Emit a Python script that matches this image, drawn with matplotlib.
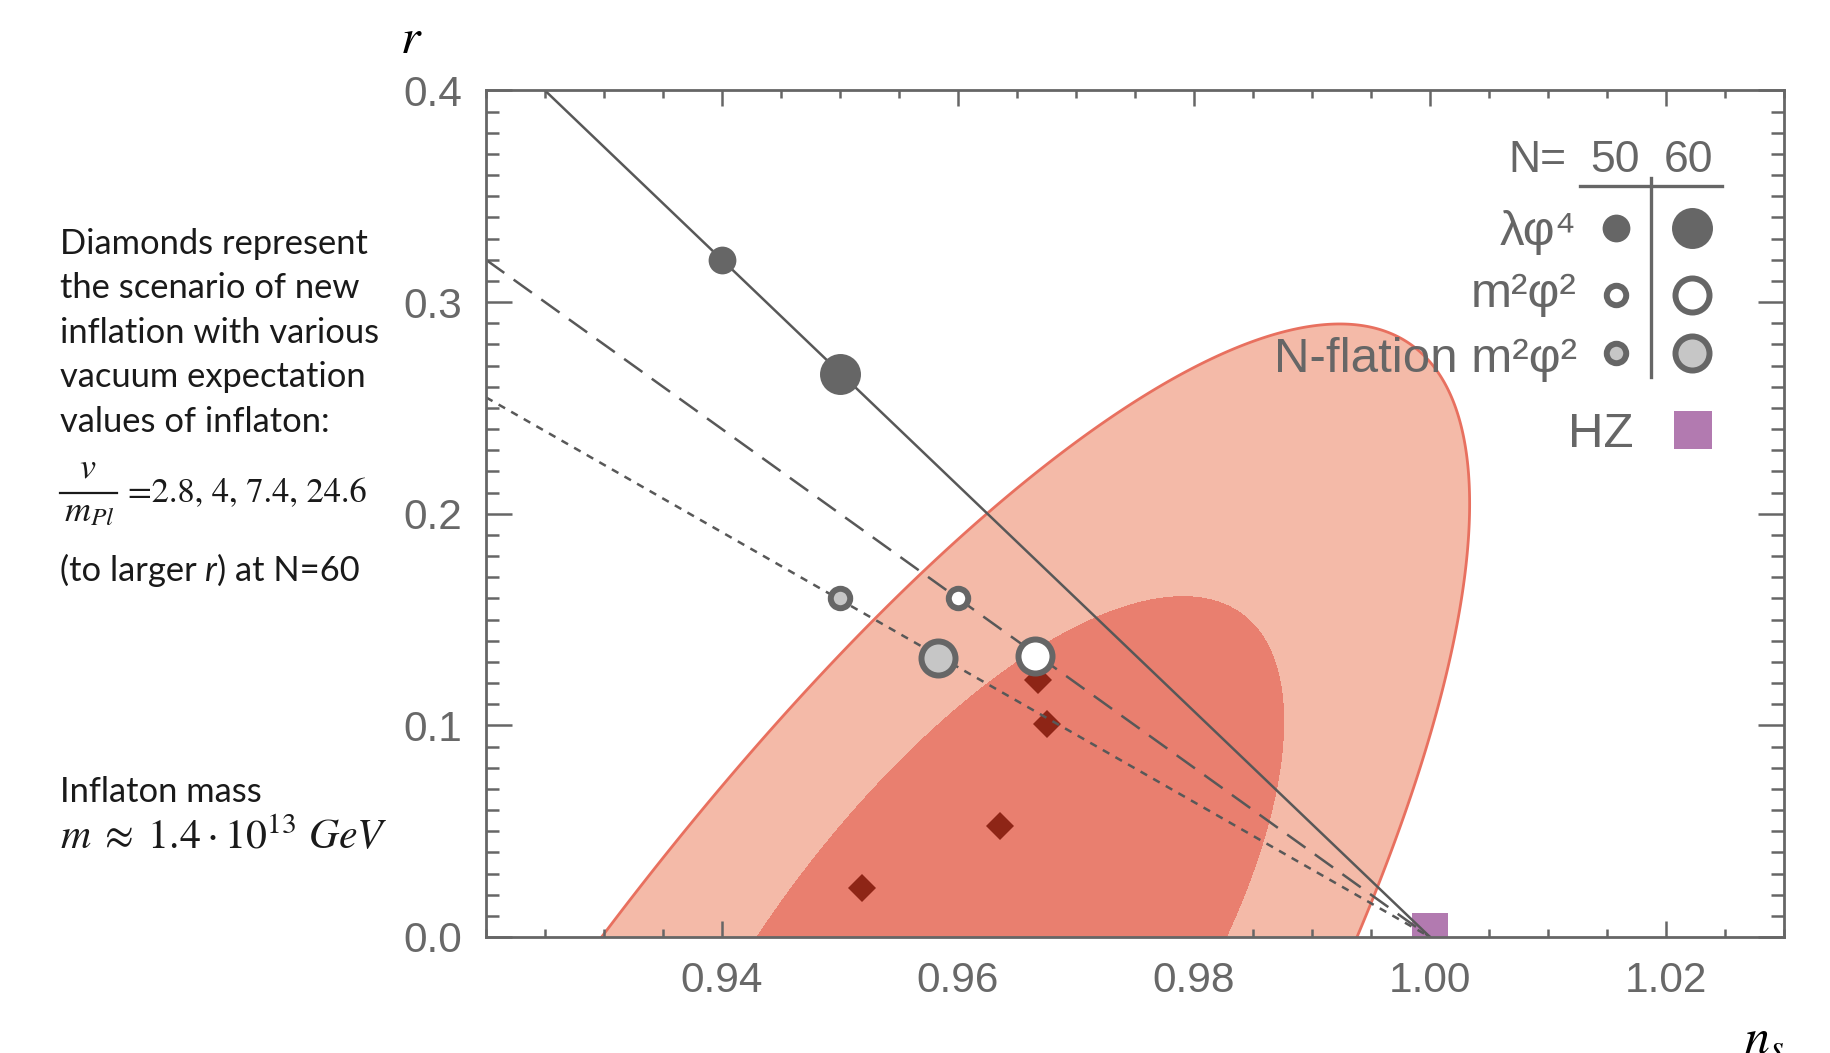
import numpy as np
import matplotlib
matplotlib.use("Agg")
import matplotlib.pyplot as plt
from matplotlib.lines import Line2D
from matplotlib.ticker import MultipleLocator

# ---------------- data ----------------
# Planck-like confidence regions (boundary samples, n_s / r)
outer_ns = [0.9300, 0.9393, 0.9477, 0.9576, 0.9629, 0.9681, 0.9778, 0.9875, 0.9917,
            0.9973, 1.0011, 1.0030, 1.0033, 1.0027, 1.0011, 0.9975, 0.9938]
outer_r = [0.0, 0.0647, 0.1277, 0.1740, 0.2002, 0.2223, 0.2595, 0.2895, 0.2950,
           0.2825, 0.2565, 0.2150, 0.1900, 0.1600, 0.1055, 0.0590, 0.0]
inner_ns = [0.9431, 0.9506, 0.9551, 0.9576, 0.9616, 0.9681, 0.9745, 0.9801, 0.9843,
            0.9869, 0.9877, 0.9872, 0.9856, 0.9828]
inner_r = [0.0, 0.0584, 0.0805, 0.0963, 0.1199, 0.1372, 0.1561, 0.1605, 0.1535,
           0.1310, 0.1057, 0.0805, 0.0427, 0.0]

# model lines
lam_line_ns = [0.925, 1.0]
lam_line_r = [0.40, 0.0]
m2_line_ns = [0.92, 1.0]
m2_line_r = [0.32, 0.0]
nfl_line_ns = [0.92, 1.0]
nfl_line_r = [0.255, 0.0]

# model points (N=50, N=60)
lam_ns = [0.940, 0.950]
lam_r = [0.320, 0.266]
m2_ns = [0.960, 0.9665]
m2_r = [0.160, 0.133]
nfl_ns = [0.950, 0.9583]
nfl_r = [0.160, 0.132]

# new inflation diamonds
dia_ns = [0.9668, 0.9675, 0.9636, 0.9519]
dia_r = [0.1215, 0.1006, 0.0525, 0.0232]

# Harrison-Zeldovich
hz_ns = [1.0]
hz_r = [0.003]

xticks = [0.94, 0.96, 0.98, 1.00, 1.02]
xticklabels = ["0.94", "0.96", "0.98", "1.00", "1.02"]
yticks = [0.0, 0.1, 0.2, 0.3, 0.4]
yticklabels = ["0.0", "0.1", "0.2", "0.3", "0.4"]

# ---------------- styling ----------------
W, H = 1831, 1053
GREY = "#666666"
LINE = "#585858"
LBL = "#686868"
C_OUT = "#f4baa8"
C_IN = "#e97f6f"
C_EDGE = "#e8705f"
C_DIA = "#8e2516"
C_HZ = "#b27ab0"
C_NFL = "#c6c6c6"
TXT = "#1a1a1a"

plt.rcParams["mathtext.fontset"] = "stix"
SANS = ["Liberation Sans", "DejaVu Sans"]

fig = plt.figure(figsize=(W / 100, H / 100), dpi=100)
fig.patch.set_facecolor("white")
ax = fig.add_axes([486 / W, 1 - 937 / H, (1784 - 486) / W, (937 - 90.5) / H])


def fx(px):
    return px / W


def fy(py):
    return 1 - py / H


# ---------------- confidence regions via conic fit ----------------
def conic_coeffs(ns, r):
    u = (np.asarray(ns) - 0.96) / 0.01
    v = np.asarray(r) / 0.05
    D = np.column_stack([u * u, u * v, v * v, u, v, np.ones_like(u)])
    _, _, Vt = np.linalg.svd(D)
    c = Vt[-1]
    uc, vc = u.mean(), v.mean()
    val = c[0] * uc * uc + c[1] * uc * vc + c[2] * vc * vc + c[3] * uc + c[4] * vc + c[5]
    return c if val < 0 else -c


def conic_eval(c, NS, R):
    u = (NS - 0.96) / 0.01
    v = R / 0.05
    return c[0] * u * u + c[1] * u * v + c[2] * v * v + c[3] * u + c[4] * v + c[5]


gx = np.linspace(0.915, 1.035, 1400)
gy = np.linspace(-0.02, 0.42, 1200)
GX, GY = np.meshgrid(gx, gy)
co = conic_coeffs(outer_ns, outer_r)
ci = conic_coeffs(inner_ns, inner_r)
Qo = conic_eval(co, GX, GY)
Qi = conic_eval(ci, GX, GY)
ax.contourf(GX, GY, Qo, levels=[Qo.min() - 1, 0], colors=[C_OUT], zorder=1)
ax.contour(GX, GY, Qo, levels=[0], colors=[C_EDGE], linewidths=2.0, zorder=1.5)
ax.contourf(GX, GY, Qi, levels=[Qi.min() - 1, 0], colors=[C_IN], zorder=2)

# ---------------- marks ----------------
ax.plot(hz_ns, hz_r, marker="s", ms=26.5, color=C_HZ, mew=0, ls="none", zorder=2.6)
ax.plot(dia_ns, dia_r, marker="D", ms=14, color=C_DIA, mew=0, ls="none", zorder=2.5)

ax.plot(lam_line_ns, lam_line_r, color=LINE, lw=1.8, zorder=3)
ax.plot(m2_line_ns, m2_line_r, color=LINE, lw=1.8, dashes=(9.0, 4.6), zorder=3)
ax.plot(nfl_line_ns, nfl_line_r, color=LINE, lw=1.8, dashes=(3.0, 2.8), zorder=3)

small_filled = 20
big_filled = 29.5
small_ring = 14
big_ring = 24.5
ring_w = 4.3

ax.plot(lam_ns[:1], lam_r[:1], "o", ms=small_filled, color=GREY, mew=0, zorder=4)
ax.plot(lam_ns[1:], lam_r[1:], "o", ms=big_filled, color=GREY, mew=0, zorder=4)
ax.plot(m2_ns[:1], m2_r[:1], "o", ms=small_ring, mfc="white", mec=GREY, mew=ring_w, zorder=4)
ax.plot(m2_ns[1:], m2_r[1:], "o", ms=big_ring, mfc="white", mec=GREY, mew=ring_w, zorder=4)
ax.plot(nfl_ns[:1], nfl_r[:1], "o", ms=small_ring, mfc=C_NFL, mec=GREY, mew=ring_w, zorder=4)
ax.plot(nfl_ns[1:], nfl_r[1:], "o", ms=big_ring, mfc=C_NFL, mec=GREY, mew=ring_w, zorder=4)

# ---------------- axes ----------------
ax.set_xlim(0.92, 1.03)
ax.set_ylim(0.0, 0.4)
ax.set_xticks(xticks)
ax.set_xticklabels(xticklabels)
ax.set_yticks(yticks)
ax.set_yticklabels(yticklabels)
ax.xaxis.set_minor_locator(MultipleLocator(0.005))
ax.yaxis.set_minor_locator(MultipleLocator(0.01))
for s in ax.spines.values():
    s.set_color(GREY)
    s.set_linewidth(2.0)
    s.set_zorder(5)
ax.tick_params(axis="both", which="both", direction="in", color=GREY, width=1.8,
               top=True, right=True, labelcolor=LBL, labelsize=30.5)
ax.tick_params(axis="x", which="major", length=11.5, pad=17)
ax.tick_params(axis="x", which="minor", length=6)
ax.tick_params(axis="y", which="major", length=18.5, pad=17)
ax.tick_params(axis="y", which="minor", length=9.3)
for lab in ax.get_xticklabels() + ax.get_yticklabels():
    lab.set_family(SANS)

# axis titles
fig.text(fx(400), fy(53), r"$r$", fontsize=36, color="black", ha="left", va="baseline")
fig.text(fx(1744), fy(1052), r"$n_s$", fontsize=36, color="black", ha="left", va="baseline")

# ---------------- legend (drawn) ----------------
LFS = 35.5
HFS = 32
fig.text(fx(1567), fy(171.7), "N=", fontsize=HFS, color=GREY, family=SANS, ha="right", va="baseline")
fig.text(fx(1615), fy(171.7), "50", fontsize=HFS, color=GREY, family=SANS, ha="center", va="baseline")
fig.text(fx(1689), fy(171.7), "60", fontsize=HFS, color=GREY, family=SANS, ha="center", va="baseline")
fig.add_artist(Line2D([fx(1580), fx(1722)], [fy(186), fy(186)], color=GREY, lw=2.4,
                      transform=fig.transFigure))
fig.add_artist(Line2D([fx(1651), fx(1651)], [fy(178), fy(377)], color=GREY, lw=2.4,
                      transform=fig.transFigure))

rows = [("λφ⁴", 245, 228.3), ("m²φ²", 306.7, 295), ("N-flation m²φ²", 371.7, 352.7)]
for label, base, my in rows:
    fig.text(fx(1577), fy(base), label, fontsize=LFS, color=GREY, family=SANS,
             ha="right", va="baseline")


def leg_marker(x, y, **kw):
    fig.add_artist(Line2D([fx(x)], [fy(y)], transform=fig.transFigure, ls="none", **kw))


leg_marker(1615.7, 228.3, marker="o", ms=small_filled, color=GREY, mew=0)
leg_marker(1692.3, 228.3, marker="o", ms=big_filled, color=GREY, mew=0)
leg_marker(1615.7, 295, marker="o", ms=small_ring, mfc="white", mec=GREY, mew=ring_w)
leg_marker(1692.3, 295, marker="o", ms=big_ring, mfc="white", mec=GREY, mew=ring_w)
leg_marker(1615.7, 352.7, marker="o", ms=small_ring, mfc=C_NFL, mec=GREY, mew=ring_w)
leg_marker(1692.3, 352.7, marker="o", ms=big_ring, mfc=C_NFL, mec=GREY, mew=ring_w)
fig.text(fx(1634), fy(446.7), "HZ", fontsize=LFS, color=GREY, family=SANS, ha="right", va="baseline")
leg_marker(1693, 430, marker="s", ms=27.5, color=C_HZ, mew=0)

# ---------------- left annotation ----------------
AFS = 24.8
AFAM = ["Lato", "DejaVu Sans"]
lines = ["Diamonds represent", "the scenario of new", "inflation with various",
         "vacuum expectation", "values of inflaton:"]
baselines = [254, 298.5, 343, 387.5, 432]
for s, b in zip(lines, baselines):
    fig.text(fx(60), fy(b), s, fontsize=AFS, family=AFAM, color=TXT, ha="left", va="baseline")

# fraction v / m_Pl
fig.text(fx(88), fy(478), r"$v$", fontsize=26, color=TXT, ha="center", va="baseline")
fig.add_artist(Line2D([fx(60), fx(117)], [fy(493), fy(493)], color=TXT, lw=1.6,
                      transform=fig.transFigure))
fig.text(fx(89), fy(521), r"$m_{Pl}$", fontsize=26, color=TXT, ha="center", va="baseline")
fig.text(fx(128), fy(501.7), "=2.8, 4, 7.4, 24.6", fontsize=24.8, family="STIXGeneral",
         color=TXT, ha="left", va="baseline")

# "(to larger r) at N=60" with italic r
renderer = fig.canvas.get_renderer()
t1 = fig.text(fx(60), fy(581), "(to larger", fontsize=AFS, family=AFAM, color=TXT,
              ha="left", va="baseline")
x1 = t1.get_window_extent(renderer).x1 + 8
t2 = fig.text(x1 / W, fy(581), "r", fontsize=AFS, family=AFAM, style="italic", color=TXT,
              ha="left", va="baseline")
x2 = t2.get_window_extent(renderer).x1 + 1
fig.text(x2 / W, fy(581), ") at N=60", fontsize=AFS, family=AFAM, color=TXT,
         ha="left", va="baseline")

fig.text(fx(60), fy(801.7), "Inflaton mass", fontsize=AFS, family=AFAM, color=TXT,
         ha="left", va="baseline")
fig.text(fx(60), fy(849), r"$m\;\approx\;1.4 \cdot 10^{13}\ GeV$", fontsize=30.2, color=TXT,
         ha="left", va="baseline")

fig.savefig("out.png", dpi=100, facecolor="white")
